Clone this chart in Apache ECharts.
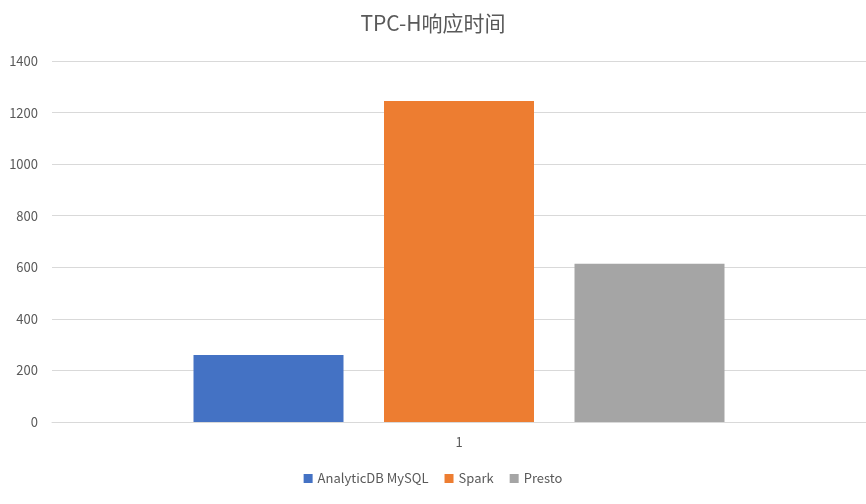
<!DOCTYPE html><html><head><meta charset="utf-8"><script src="https://cdn.jsdelivr.net/npm/echarts@6/dist/echarts.min.js"></script>
<style>html,body{margin:0;padding:0;background:#fff}#c{width:866px;height:504px}</style></head><body><div id="c"></div><script>
const categories=['1'];
const seriesNames=['AnalyticDB MySQL','Spark','Presto'];
const adb=[260];
const spark=[1245];
const presto=[614];
const colors=['#4472C4','#ED7D31','#A5A5A5'];
const chart=echarts.init(document.getElementById('c'));
const font='"Noto Sans CJK SC","Open Sans",sans-serif';
chart.setOption({
 animation:false,
 title:{text:'TPC-H响应时间',left:'center',top:8,textStyle:{fontSize:21,fontWeight:'normal',color:'#595959',fontFamily:font}},
 grid:{left:52,top:61,right:-51,bottom:82,containLabel:false},
 legend:{bottom:14,left:'center',itemWidth:9,itemHeight:9,itemGap:16,icon:'rect',textStyle:{fontSize:13,color:'#595959',fontFamily:font},data:seriesNames},
 xAxis:{type:'category',data:categories,axisTick:{show:false},axisLine:{lineStyle:{color:'#d9d9d9'}},axisLabel:{color:'#595959',fontSize:13,margin:14,fontFamily:font}},
 yAxis:{type:'value',min:0,max:1400,interval:200,axisLabel:{color:'#595959',fontSize:13,margin:14,fontFamily:font,formatter:v=>String(v)},splitLine:{lineStyle:{color:'#d9d9d9'}}},
 series:[
  {name:seriesNames[0],type:'bar',data:adb,barWidth:150,barGap:'27%',itemStyle:{color:colors[0]}},
  {name:seriesNames[1],type:'bar',data:spark,barWidth:150,barGap:'27%',itemStyle:{color:colors[1]}},
  {name:seriesNames[2],type:'bar',data:presto,barWidth:150,barGap:'27%',itemStyle:{color:colors[2]}}
 ]
});
</script></body></html>
